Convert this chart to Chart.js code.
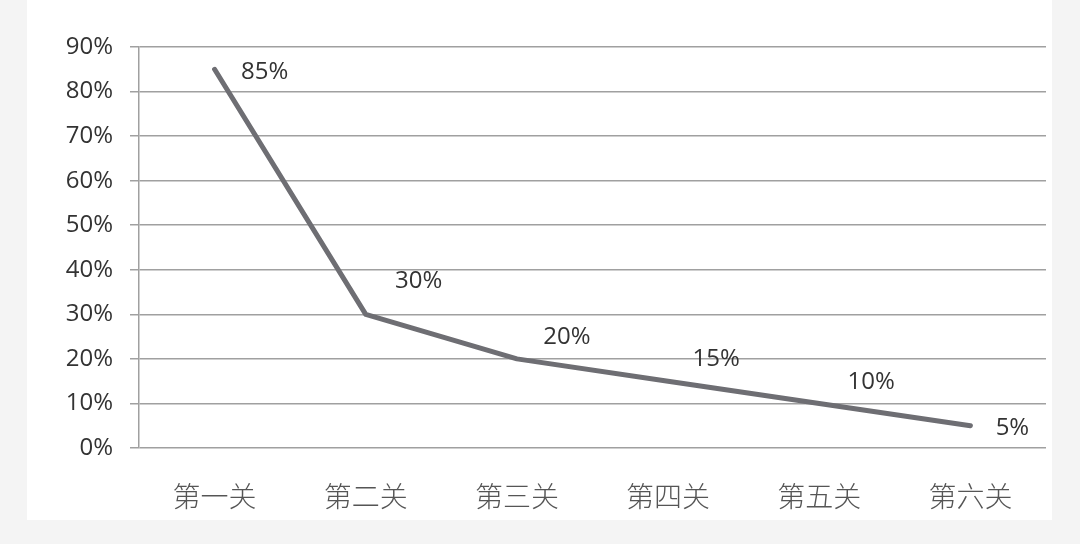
<!DOCTYPE html>
<html>
<head>
<meta charset="utf-8">
<script src="https://cdn.jsdelivr.net/npm/chart.js@4"></script>
<style>
  html, body { margin: 0; padding: 0; background: #f4f4f4; width: 1080px; height: 544px; overflow: hidden; }
  #panel { position: absolute; left: 27px; top: 0; width: 1025px; height: 520px; background: #ffffff; }
</style>
</head>
<body>
<div id="panel"><canvas id="c" width="1025" height="520"></canvas></div>
<script>
const categories = ['第一关', '第二关', '第三关', '第四关', '第五关', '第六关'];
const values = [85, 30, 20, 15, 10, 5];
const yTicks = [0, 10, 20, 30, 40, 50, 60, 70, 80, 90];

const labelStyle = {
  dx: [50, 53, 50, 48, 52, 42],
  dy: [3, -33, -22, -22, -21, 2]
};

const dataLabels = {
  id: 'dataLabels',
  afterDatasetsDraw(chart) {
    const ctx = chart.ctx;
    const meta = chart.getDatasetMeta(0);
    ctx.save();
    ctx.font = '24px "Open Sans"';
    ctx.fillStyle = '#333333';
    ctx.textAlign = 'center';
    ctx.textBaseline = 'middle';
    meta.data.forEach((pt, i) => {
      ctx.fillText(values[i] + '%', pt.x + labelStyle.dx[i], pt.y + labelStyle.dy[i]);
    });
    ctx.restore();
  }
};

new Chart(document.getElementById('c'), {
  type: 'line',
  data: {
    labels: categories,
    datasets: [{
      data: values,
      borderColor: '#6e6e73',
      borderWidth: 5,
      borderCapStyle: 'round',
      borderJoinStyle: 'round',
      pointRadius: 0,
      tension: 0,
      fill: false
    }]
  },
  options: {
    responsive: false,
    animation: false,
    layout: { padding: { top: 47, right: 6, left: 0, bottom: 0 } },
    plugins: { legend: { display: false }, tooltip: { enabled: false } },
    scales: {
      x: {
        offset: true,
        grid: { display: false, drawTicks: false },
        border: { display: false },
        ticks: {
          padding: 32,
          color: '#555555',
          font: { family: '"Noto Sans CJK SC"', size: 28, weight: 300 }
        },
        afterFit(scale) { scale.height = 72; }
      },
      y: {
        min: 0,
        max: 90,
        afterBuildTicks(scale) { scale.ticks = yTicks.map(v => ({ value: v })); },
        grid: { color: '#a0a0a0', lineWidth: 1.5, tickLength: 9 },
        border: { color: '#a0a0a0', width: 1.5 },
        ticks: {
          padding: 17,
          color: '#333333',
          font: { family: '"Open Sans"', size: 24 },
          callback: v => v + '%'
        },
        afterFit(scale) { scale.width = 112; }
      }
    }
  },
  plugins: [dataLabels]
});
</script>
</body>
</html>
